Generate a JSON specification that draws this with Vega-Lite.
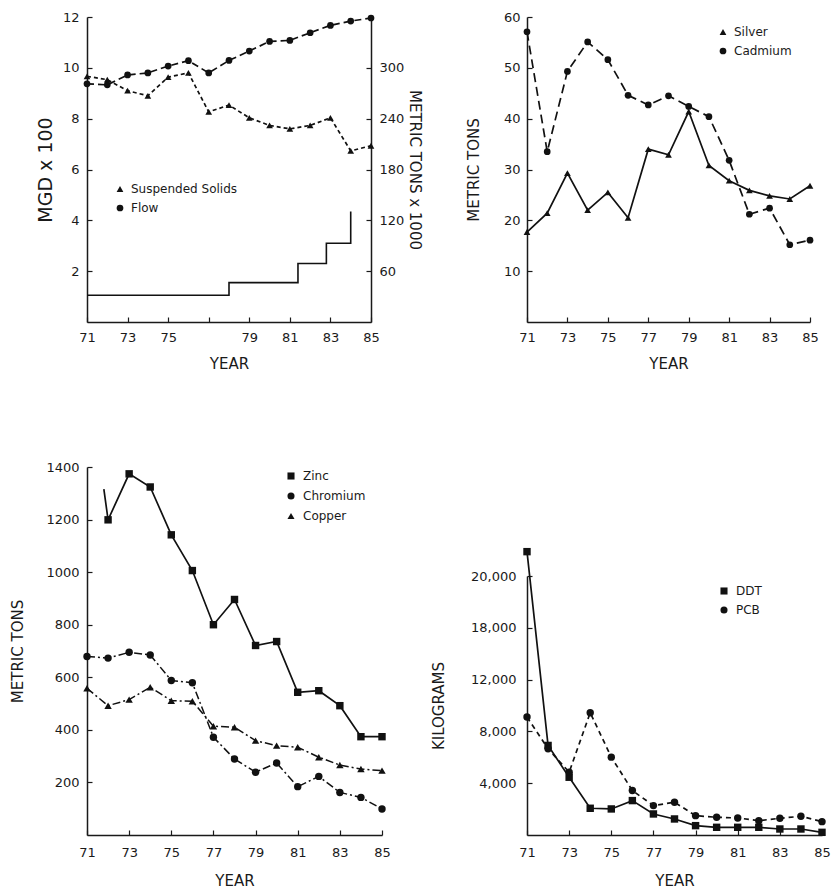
{
  "$schema": "https://vega.github.io/schema/vega-lite/v6.json",
  "padding": {"left": 10, "top": 11, "right": 0, "bottom": 0},
  "background": "white",
  "config": {
    "font": "DejaVu Sans",
    "view": {"stroke": null},
    "axis": {
      "labelFont": "DejaVu Sans", "labelFontSize": 13, "labelColor": "#1a1a1a", "labelFlush": false,
      "titleFont": "DejaVu Sans", "titleFontSize": 15, "titleFontWeight": "normal", "titleColor": "#1a1a1a",
      "domainColor": "#1a1a1a", "domainWidth": 1.5, "tickColor": "#1a1a1a", "tickWidth": 1.2,
      "tickSize": -5, "grid": false
    },
    "legend": {"labelFont": "DejaVu Sans", "labelFontSize": 12, "labelColor": "#1a1a1a"}
  },
  "datasets": {
    "p1": [
      {"year": 71, "series": "Flow", "value": 9.37}, {"year": 72, "series": "Flow", "value": 9.33},
      {"year": 73, "series": "Flow", "value": 9.72}, {"year": 74, "series": "Flow", "value": 9.8},
      {"year": 75, "series": "Flow", "value": 10.07}, {"year": 76, "series": "Flow", "value": 10.28},
      {"year": 77, "series": "Flow", "value": 9.8}, {"year": 78, "series": "Flow", "value": 10.29},
      {"year": 79, "series": "Flow", "value": 10.66}, {"year": 80, "series": "Flow", "value": 11.04},
      {"year": 81, "series": "Flow", "value": 11.08}, {"year": 82, "series": "Flow", "value": 11.38},
      {"year": 83, "series": "Flow", "value": 11.67}, {"year": 84, "series": "Flow", "value": 11.84},
      {"year": 85, "series": "Flow", "value": 11.96},
      {"year": 71, "series": "Suspended Solids", "value": 290}, {"year": 72, "series": "Suspended Solids", "value": 286},
      {"year": 73, "series": "Suspended Solids", "value": 273}, {"year": 74, "series": "Suspended Solids", "value": 267},
      {"year": 75, "series": "Suspended Solids", "value": 289}, {"year": 76, "series": "Suspended Solids", "value": 294},
      {"year": 77, "series": "Suspended Solids", "value": 248}, {"year": 78, "series": "Suspended Solids", "value": 256},
      {"year": 79, "series": "Suspended Solids", "value": 241}, {"year": 80, "series": "Suspended Solids", "value": 232},
      {"year": 81, "series": "Suspended Solids", "value": 228}, {"year": 82, "series": "Suspended Solids", "value": 232},
      {"year": 83, "series": "Suspended Solids", "value": 241}, {"year": 84, "series": "Suspended Solids", "value": 202},
      {"year": 85, "series": "Suspended Solids", "value": 208}
    ],
    "p1step": [
      {"year": 71, "value": 1.05}, {"year": 78, "value": 1.55}, {"year": 81.4, "value": 2.3},
      {"year": 82.8, "value": 3.1}, {"year": 84, "value": 4.35}
    ],
    "p2": [
      {"year": 71, "series": "Silver", "value": 17.7}, {"year": 72, "series": "Silver", "value": 21.4},
      {"year": 73, "series": "Silver", "value": 29.3}, {"year": 74, "series": "Silver", "value": 22.0},
      {"year": 75, "series": "Silver", "value": 25.5}, {"year": 76, "series": "Silver", "value": 20.5},
      {"year": 77, "series": "Silver", "value": 34.0}, {"year": 78, "series": "Silver", "value": 32.9},
      {"year": 79, "series": "Silver", "value": 41.4}, {"year": 80, "series": "Silver", "value": 30.8},
      {"year": 81, "series": "Silver", "value": 27.8}, {"year": 82, "series": "Silver", "value": 25.9},
      {"year": 83, "series": "Silver", "value": 24.8}, {"year": 84, "series": "Silver", "value": 24.2},
      {"year": 85, "series": "Silver", "value": 26.8},
      {"year": 71, "series": "Cadmium", "value": 57.1}, {"year": 72, "series": "Cadmium", "value": 33.5},
      {"year": 73, "series": "Cadmium", "value": 49.3}, {"year": 74, "series": "Cadmium", "value": 55.1},
      {"year": 75, "series": "Cadmium", "value": 51.6}, {"year": 76, "series": "Cadmium", "value": 44.6},
      {"year": 77, "series": "Cadmium", "value": 42.7}, {"year": 78, "series": "Cadmium", "value": 44.5},
      {"year": 79, "series": "Cadmium", "value": 42.4}, {"year": 80, "series": "Cadmium", "value": 40.4},
      {"year": 81, "series": "Cadmium", "value": 31.8}, {"year": 82, "series": "Cadmium", "value": 21.2},
      {"year": 83, "series": "Cadmium", "value": 22.4}, {"year": 84, "series": "Cadmium", "value": 15.2},
      {"year": 85, "series": "Cadmium", "value": 16.1}
    ],
    "p3": [
      {"year": 71.8, "series": "Zinc", "value": 1316}, {"year": 72, "series": "Zinc", "value": 1199},
      {"year": 73, "series": "Zinc", "value": 1374}, {"year": 74, "series": "Zinc", "value": 1324},
      {"year": 75, "series": "Zinc", "value": 1142}, {"year": 76, "series": "Zinc", "value": 1006},
      {"year": 77, "series": "Zinc", "value": 800}, {"year": 78, "series": "Zinc", "value": 896},
      {"year": 79, "series": "Zinc", "value": 721}, {"year": 80, "series": "Zinc", "value": 736},
      {"year": 81, "series": "Zinc", "value": 543}, {"year": 82, "series": "Zinc", "value": 549},
      {"year": 83, "series": "Zinc", "value": 492}, {"year": 84, "series": "Zinc", "value": 374},
      {"year": 85, "series": "Zinc", "value": 374},
      {"year": 71, "series": "Chromium", "value": 679}, {"year": 72, "series": "Chromium", "value": 673},
      {"year": 73, "series": "Chromium", "value": 695}, {"year": 74, "series": "Chromium", "value": 685},
      {"year": 75, "series": "Chromium", "value": 588}, {"year": 76, "series": "Chromium", "value": 579},
      {"year": 77, "series": "Chromium", "value": 372}, {"year": 78, "series": "Chromium", "value": 289},
      {"year": 79, "series": "Chromium", "value": 239}, {"year": 80, "series": "Chromium", "value": 274},
      {"year": 81, "series": "Chromium", "value": 184}, {"year": 82, "series": "Chromium", "value": 223},
      {"year": 83, "series": "Chromium", "value": 162}, {"year": 84, "series": "Chromium", "value": 143},
      {"year": 85, "series": "Chromium", "value": 99},
      {"year": 71, "series": "Copper", "value": 558}, {"year": 72, "series": "Copper", "value": 492},
      {"year": 73, "series": "Copper", "value": 515}, {"year": 74, "series": "Copper", "value": 562},
      {"year": 75, "series": "Copper", "value": 511}, {"year": 76, "series": "Copper", "value": 509},
      {"year": 77, "series": "Copper", "value": 414}, {"year": 78, "series": "Copper", "value": 410},
      {"year": 79, "series": "Copper", "value": 359}, {"year": 80, "series": "Copper", "value": 340},
      {"year": 81, "series": "Copper", "value": 334}, {"year": 82, "series": "Copper", "value": 296},
      {"year": 83, "series": "Copper", "value": 266}, {"year": 84, "series": "Copper", "value": 251},
      {"year": 85, "series": "Copper", "value": 245}
    ],
    "p4": [
      {"year": 71, "series": "DDT", "value": 21880}, {"year": 72, "series": "DDT", "value": 6915},
      {"year": 73, "series": "DDT", "value": 4460}, {"year": 74, "series": "DDT", "value": 2064},
      {"year": 75, "series": "DDT", "value": 2012}, {"year": 76, "series": "DDT", "value": 2657},
      {"year": 77, "series": "DDT", "value": 1625}, {"year": 78, "series": "DDT", "value": 1238},
      {"year": 79, "series": "DDT", "value": 722}, {"year": 80, "series": "DDT", "value": 593},
      {"year": 81, "series": "DDT", "value": 593}, {"year": 82, "series": "DDT", "value": 593},
      {"year": 83, "series": "DDT", "value": 464}, {"year": 84, "series": "DDT", "value": 464},
      {"year": 85, "series": "DDT", "value": 206},
      {"year": 71, "series": "PCB", "value": 9107}, {"year": 72, "series": "PCB", "value": 6656},
      {"year": 73, "series": "PCB", "value": 4850}, {"year": 74, "series": "PCB", "value": 9443},
      {"year": 75, "series": "PCB", "value": 6011}, {"year": 76, "series": "PCB", "value": 3431},
      {"year": 77, "series": "PCB", "value": 2270}, {"year": 78, "series": "PCB", "value": 2528},
      {"year": 79, "series": "PCB", "value": 1496}, {"year": 80, "series": "PCB", "value": 1367},
      {"year": 81, "series": "PCB", "value": 1316}, {"year": 82, "series": "PCB", "value": 1109},
      {"year": 83, "series": "PCB", "value": 1290}, {"year": 84, "series": "PCB", "value": 1445},
      {"year": 85, "series": "PCB", "value": 1032}
    ]
  },
  "spacing": 9,
  "resolve": {"scale": {"shape": "independent"}, "legend": {"shape": "independent"}},
  "hconcat": [
    {
      "spacing": 145,
      "bounds": "flush",
      "resolve": {"scale": {"shape": "independent"}, "legend": {"shape": "independent"}},
      "vconcat": [
        {
          "width": 284, "height": 305,
          "resolve": {"scale": {"y": "independent"}},
          "layer": [
            {
              "encoding": {
                "x": {"field": "year", "type": "quantitative", "scale": {"domain": [71, 85], "nice": false, "zero": false},
                      "axis": {"values": [71, 73, 75, 77, 79, 81, 83, 85], "title": "YEAR", "labelPadding": 14, "titlePadding": 12,
                               "labelExpr": "datum.value == 77 ? '' : datum.label"}},
                "y": {"field": "value", "type": "quantitative", "scale": {"domain": [0, 12], "nice": false},
                      "axis": {"values": [2, 4, 6, 8, 10, 12], "title": "MGD x 100", "titleFontSize": 19, "labelPadding": 13, "titlePadding": 7}}
              },
              "layer": [
                {"data": {"name": "p1step"}, "mark": {"type": "line", "interpolate": "step-after", "color": "#111", "strokeWidth": 1.6}},
                {"data": {"name": "p1"}, "transform": [{"filter": "datum.series == 'Flow'"}],
                 "mark": {"type": "line", "color": "#111", "strokeWidth": 1.7, "strokeDash": [7, 4]}},
                {"data": {"name": "p1"}, "transform": [{"filter": "datum.series == 'Flow'"}],
                 "mark": {"type": "point", "filled": true, "color": "#111", "opacity": 1, "size": 45},
                 "encoding": {"shape": {"field": "series", "type": "nominal",
                   "scale": {"domain": ["Suspended Solids", "Flow"], "range": ["triangle-up", "circle"]},
                   "legend": {"orient": "none", "legendX": 27, "legendY": 166, "title": null, "padding": 0, "symbolSize": 45,
                              "labelOffset": 5, "rowPadding": 7, "symbolFillColor": "#111", "symbolStrokeWidth": 0}}}}
              ]
            },
            {
              "encoding": {
                "x": {"field": "year", "type": "quantitative", "scale": {"domain": [71, 85], "nice": false, "zero": false}},
                "y": {"field": "value", "type": "quantitative", "scale": {"domain": [0, 360], "nice": false},
                      "axis": {"orient": "right", "values": [60, 120, 180, 240, 300], "title": "METRIC TONS x 1000", "labelPadding": 13, "titlePadding": 3}}
              },
              "layer": [
                {"data": {"name": "p1"}, "transform": [{"filter": "datum.series == 'Suspended Solids'"}],
                 "mark": {"type": "line", "color": "#111", "strokeWidth": 1.7, "strokeDash": [4, 3]}},
                {"data": {"name": "p1"}, "transform": [{"filter": "datum.series == 'Suspended Solids'"}],
                 "mark": {"type": "point", "filled": true, "color": "#111", "opacity": 1, "size": 45},
                 "encoding": {"shape": {"field": "series", "type": "nominal",
                   "scale": {"domain": ["Suspended Solids", "Flow"], "range": ["triangle-up", "circle"]}}}}
              ]
            }
          ]
        },
        {
          "width": 295, "height": 368,
          "data": {"name": "p3"},
          "encoding": {
            "x": {"field": "year", "type": "quantitative", "scale": {"domain": [71, 85], "nice": false, "zero": false},
                  "axis": {"values": [71, 73, 75, 77, 79, 81, 83, 85], "title": "YEAR", "labelPadding": 16, "titlePadding": 14}},
            "y": {"field": "value", "type": "quantitative", "scale": {"domain": [0, 1400], "nice": false},
                  "axis": {"values": [200, 400, 600, 800, 1000, 1200, 1400], "format": "d", "title": "METRIC TONS", "labelPadding": 13, "titlePadding": 20}}
          },
          "layer": [
            {"transform": [{"filter": "datum.series == 'Zinc'"}], "mark": {"type": "line", "color": "#111", "strokeWidth": 1.7}},
            {"transform": [{"filter": "datum.series == 'Chromium'"}], "mark": {"type": "line", "color": "#111", "strokeWidth": 1.5, "strokeDash": [8, 3, 2, 3]}},
            {"transform": [{"filter": "datum.series == 'Copper'"}], "mark": {"type": "line", "color": "#111", "strokeWidth": 1.5, "strokeDash": [8, 3, 2, 3]}},
            {"transform": [{"filter": "floor(datum.year) == datum.year"}],
             "mark": {"type": "point", "filled": true, "color": "#111", "opacity": 1, "size": 55},
             "encoding": {"shape": {"field": "series", "type": "nominal",
               "scale": {"domain": ["Zinc", "Chromium", "Copper"], "range": ["square", "circle", "triangle-up"]},
               "legend": {"orient": "none", "legendX": 198, "legendY": 3, "title": null, "padding": 0, "symbolSize": 50,
                          "labelOffset": 6, "rowPadding": 8, "symbolFillColor": "#111", "symbolStrokeWidth": 0}}}}
          ]
        }
      ]
    },
    {
      "spacing": 254,
      "bounds": "flush",
      "resolve": {"scale": {"shape": "independent"}, "legend": {"shape": "independent"}},
      "vconcat": [
        {
          "width": 283, "height": 305,
          "data": {"name": "p2"},
          "encoding": {
            "x": {"field": "year", "type": "quantitative", "scale": {"domain": [71, 85], "nice": false, "zero": false},
                  "axis": {"values": [71, 73, 75, 77, 79, 81, 83, 85], "title": "YEAR", "labelPadding": 14, "titlePadding": 12}},
            "y": {"field": "value", "type": "quantitative", "scale": {"domain": [0, 60], "nice": false},
                  "axis": {"values": [10, 20, 30, 40, 50, 60], "title": "METRIC TONS", "labelPadding": 12, "titlePadding": 22}}
          },
          "layer": [
            {"transform": [{"filter": "datum.series == 'Silver'"}], "mark": {"type": "line", "color": "#111", "strokeWidth": 1.7}},
            {"transform": [{"filter": "datum.series == 'Cadmium'"}], "mark": {"type": "line", "color": "#111", "strokeWidth": 1.7, "strokeDash": [9, 5]}},
            {"mark": {"type": "point", "filled": true, "color": "#111", "opacity": 1, "size": 45},
             "encoding": {"shape": {"field": "series", "type": "nominal",
               "scale": {"domain": ["Silver", "Cadmium"], "range": ["triangle-up", "circle"]},
               "legend": {"orient": "none", "legendX": 190, "legendY": 9, "title": null, "padding": 0, "symbolSize": 45,
                          "labelOffset": 5, "rowPadding": 7, "symbolFillColor": "#111", "symbolStrokeWidth": 0}}}}
          ]
        },
        {
          "width": 295, "height": 259,
          "data": {"name": "p4"},
          "encoding": {
            "x": {"field": "year", "type": "quantitative", "scale": {"domain": [71, 85], "nice": false, "zero": false},
                  "axis": {"values": [71, 73, 75, 77, 79, 81, 83, 85], "title": "YEAR", "labelPadding": 16, "titlePadding": 14}},
            "y": {"field": "value", "type": "quantitative", "scale": {"domain": [0, 20000], "nice": false},
                  "axis": {"values": [4000, 8000, 12000, 16000, 20000], "title": "KILOGRAMS", "labelPadding": 16, "titlePadding": 24,
                           "labelExpr": "datum.value == 16000 ? '18,000' : format(datum.value, ',')"}}
          },
          "layer": [
            {"transform": [{"filter": "datum.series == 'DDT'"}], "mark": {"type": "line", "color": "#111", "strokeWidth": 1.7}},
            {"transform": [{"filter": "datum.series == 'PCB'"}], "mark": {"type": "line", "color": "#111", "strokeWidth": 1.7, "strokeDash": [5, 4]}},
            {"mark": {"type": "point", "filled": true, "color": "#111", "opacity": 1, "size": 55},
             "encoding": {"shape": {"field": "series", "type": "nominal",
               "scale": {"domain": ["DDT", "PCB"], "range": ["square", "circle"]},
               "legend": {"orient": "none", "legendX": 191, "legendY": 9, "title": null, "padding": 0, "symbolSize": 50,
                          "labelOffset": 6, "rowPadding": 7, "symbolFillColor": "#111", "symbolStrokeWidth": 0}}}}
          ]
        }
      ]
    }
  ]
}
